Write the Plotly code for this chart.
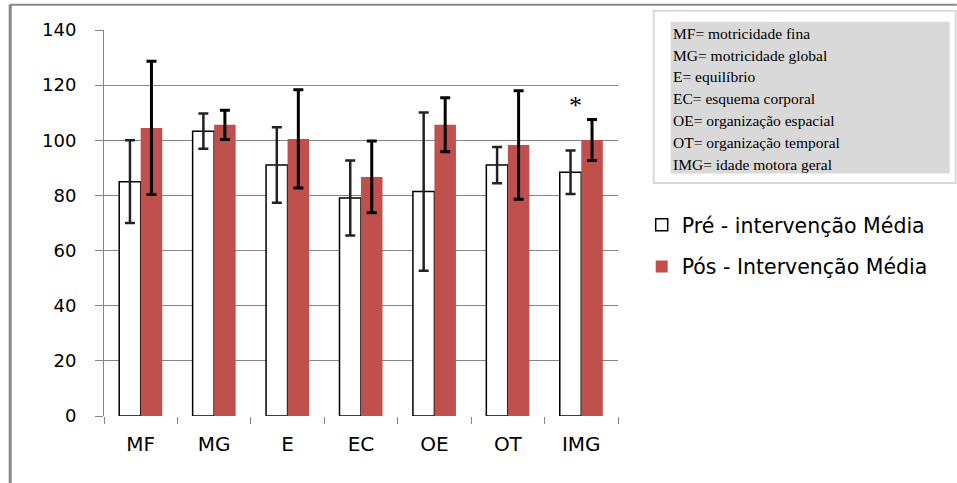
import plotly.graph_objects as go

categories = ["MF", "MG", "E", "EC", "OE", "OT", "IMG"]
pre_mean = [85.0, 103.3, 91.0, 79.1, 81.4, 91.0, 88.4]
pre_err = [15.0, 6.4, 13.7, 13.6, 28.7, 6.6, 7.9]
pos_mean = [104.5, 105.6, 100.5, 86.7, 105.6, 98.3, 100.1]
pos_err = [24.2, 5.3, 17.8, 13.0, 9.8, 19.7, 7.4]
yticks = [0, 20, 40, 60, 80, 100, 120, 140]
definitions = [
    "MF= motricidade fina",
    "MG= motricidade global",
    "E= equilíbrio",
    "EC= esquema corporal",
    "OE= organização espacial",
    "OT= organização temporal",
    "IMG= idade motora geral",
]
star_category = "IMG"
star_value = 112.5

W, H = 957, 483
L, R, T, B = 104.3, 618.3, 30.3, 415.7


def px_x(px):
    return (px - L) / (R - L)


def px_y(py):
    return (B - py) / (B - T)


GRID = "#868686"
RED = "#C0504D"

fig = go.Figure()
fig.add_trace(go.Bar(
    x=categories, y=pre_mean, name="Pré - intervenção Média",
    marker=dict(color="white", line=dict(color="black", width=1.5)),
    error_y=dict(type="data", array=pre_err, color="#222222", thickness=2.5, width=5),
    legendgroup="a",
))
fig.add_trace(go.Bar(
    x=categories, y=pos_mean, name="Pós - Intervenção Média",
    marker=dict(color=RED, line=dict(width=0)),
    error_y=dict(type="data", array=pos_err, color="black", thickness=3, width=5),
    legendgroup="b",
))

shapes = [
    # outer frame lines
    dict(type="line", xref="paper", yref="paper", x0=px_x(10), x1=px_x(957), y0=px_y(5), y1=px_y(5),
         line=dict(color="#888888", width=2)),
    dict(type="line", xref="paper", yref="paper", x0=px_x(10.5), x1=px_x(10.5), y0=px_y(5), y1=px_y(483),
         line=dict(color="#888888", width=3)),
    # definitions box
    dict(type="rect", xref="paper", yref="paper", x0=px_x(654), x1=px_x(956), y0=px_y(11), y1=px_y(183),
         line=dict(color="#d9d9d9", width=2), fillcolor="white"),
    dict(type="rect", xref="paper", yref="paper", x0=px_x(671), x1=px_x(950), y0=px_y(22), y1=px_y(173.5),
         line=dict(width=0), fillcolor="#d9d9d9"),
]

annotations = []
for i, t in enumerate(definitions):
    annotations.append(dict(
        xref="paper", yref="paper", x=px_x(671), y=px_y(33.5 + 21.8 * i),
        xanchor="left", yanchor="middle", text=t, showarrow=False,
        font=dict(family="Liberation Serif", size=15.5, color="black"),
    ))
annotations.append(dict(
    x=star_category, y=star_value, xref="x", yref="y", text="*", showarrow=False,
    xshift=-6, font=dict(family="Liberation Serif", size=26, color="black"),
))

fig.update_layout(
    width=W, height=H,
    margin=dict(l=L, r=W - R, t=T, b=H - B, pad=0),
    paper_bgcolor="white", plot_bgcolor="white",
    barmode="group", bargap=0.414, bargroupgap=0,
    shapes=shapes, annotations=annotations,
    showlegend=True,
    legend=dict(
        x=px_x(642), y=px_y(205), xanchor="left", yanchor="top",
        font=dict(family="DejaVu Sans", size=20.5, color="black"),
        bgcolor="rgba(0,0,0,0)", tracegroupgap=12, traceorder="grouped",
    ),
    xaxis=dict(
        showline=False, showgrid=False, ticks="outside", tickson="boundaries",
        ticklen=7, tickcolor=GRID, tickwidth=1.3,
        tickfont=dict(family="DejaVu Sans", size=20, color="black"),
        ticklabelstandoff=14,
    ),
    yaxis=dict(
        range=[0, 140], tickvals=yticks, showgrid=True, gridcolor=GRID, gridwidth=1,
        showline=True, linecolor=GRID, linewidth=1,
        zeroline=True, zerolinecolor="white", zerolinewidth=1,
        ticks="outside", ticklen=8, tickcolor=GRID,
        tickfont=dict(family="DejaVu Sans", size=18, color="black"),
        ticklabelstandoff=15,
    ),
)

fig.write_html(
    "out.html",
    config={"displayModeBar": False},
    post_script="document.body.style.margin='0';document.body.style.padding='0';",
)
